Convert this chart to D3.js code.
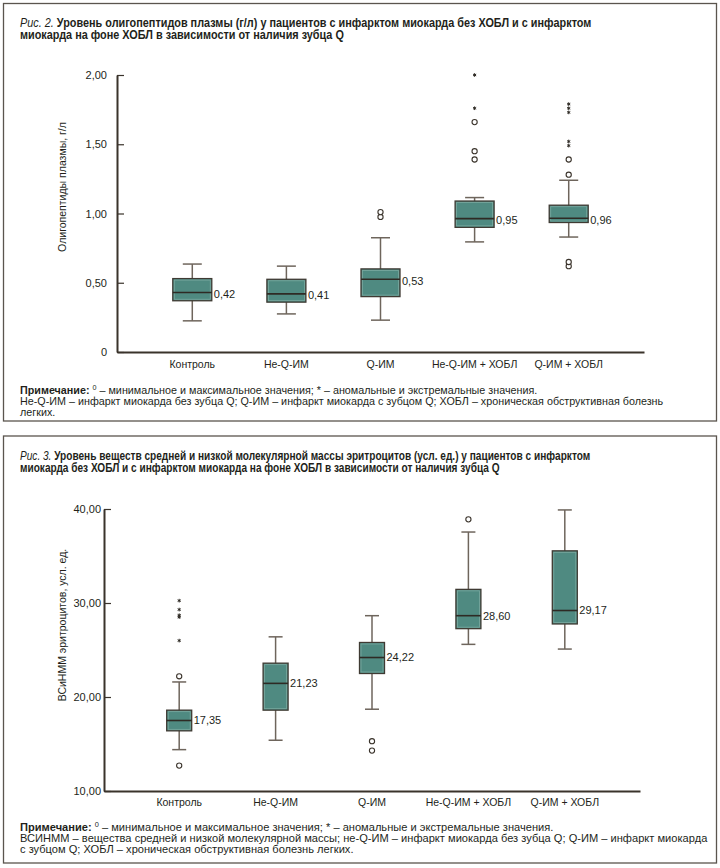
<!DOCTYPE html>
<html>
<head>
<meta charset="utf-8">
<script src="https://cdn.jsdelivr.net/npm/d3@7"></script>
<style>
  body { margin: 0; background: #fff; }
  svg text { fill: #231f1a; }
</style>
</head>
<body>
<div id="chart"></div>
<script>
// Categories (same for both figures)
var categories = ["Контроль", "Не-Q-ИМ", "Q-ИМ", "Не-Q-ИМ + ХОБЛ", "Q-ИМ + ХОБЛ"];

// Fig. 2 - plasma oligopeptides, g/l
var oligoLow    = [0.225, 0.275, 0.23, 0.795, 0.83];
var oligoQ1     = [0.37, 0.36, 0.40, 0.90, 0.935];
var oligoMedian = [0.43, 0.42, 0.525, 0.963, 0.966];
var oligoQ3     = [0.53, 0.525, 0.60, 1.09, 1.06];
var oligoHigh   = [0.635, 0.62, 0.825, 1.115, 1.24];
var oligoLabels = ["0,42", "0,41", "0,53", "0,95", "0,96"];
var oligoOutliers = [[], [], [0.975, 1.01], [1.39, 1.45, 1.66], [0.62, 0.65, 1.28, 1.39]];
var oligoExtremes = [[], [], [], [1.76, 2.0], [1.49, 1.52, 1.73, 1.76, 1.79]];
var oligoTicks = [0, 0.5, 1, 1.5, 2];
var oligoTickLabels = ["0", "0,50", "1,00", "1,50", "2,00"];

// Fig. 3 - erythrocyte middle/low molecular weight substances, c.u.
var vsLow    = [14.4, 15.4, 18.7, 25.6, 25.1];
var vsQ1     = [16.4, 18.6, 22.5, 27.27, 27.77];
var vsMedian = [17.5, 21.45, 24.2, 28.65, 29.2];
var vsQ3     = [18.6, 23.6, 25.8, 31.45, 35.55];
var vsHigh   = [21.6, 26.4, 28.65, 37.55, 39.9];
var vsLabels = ["17,35", "21,23", "24,22", "28,60", "29,17"];
var vsOutliers = [[12.7, 22.2], [], [14.3, 15.3], [38.9], []];
var vsExtremes = [[26.0, 28.5, 28.7, 29.3, 30.25], [], [], [], []];
var vsTicks = [10, 20, 30, 40];
var vsTickLabels = ["10,00", "20,00", "30,00", "40,00"];

var FONT = "'Liberation Sans', Arial, sans-serif";
var boxFill = "#4f8a81", darkLine = "#3a332b", whiskerColor = "#6e655c";

var svg = d3.select("#chart").append("svg")
    .attr("width", 720)
    .attr("height", 868)
    .style("font-family", FONT);

// squeeze a block of text lines horizontally so the widest reference line fits
function condense(lines, refIndex, target, x) {
    var len = lines[refIndex].node().getComputedTextLength();
    var s = target / len;
    lines.forEach(function (t) {
        var y = +t.attr("y");
        t.attr("x", 0).attr("y", 0)
            .attr("transform", "translate(" + x + "," + y + ") scale(" + s + ",1)");
    });
}

function drawPanel(p) {
    var g = svg.append("g");

    // Frame
    g.append("rect")
        .attr("x", 3.5).attr("y", p.frameTop)
        .attr("width", 713).attr("height", p.frameBottom - p.frameTop)
        .attr("fill", "none").attr("stroke", "#5b554e").attr("stroke-width", 1.3);

    // Title
    var titleLines = p.title.map(function (line, i) {
        var t = g.append("text")
            .attr("x", 20).attr("y", p.titleY + i * 11.8)
            .style("font-size", "12px").style("font-weight", "bold");
        if (i === 0) {
            t.append("tspan").style("font-style", "italic").style("font-weight", "normal").text(p.fig + " ");
        }
        t.append("tspan").text(line);
        return t;
    });
    condense(titleLines, 0, p.titleWidth, 20);

    // Scales
    var x = d3.scalePoint().domain(categories).range([p.x0, p.x1]).padding(p.pad);
    var y = d3.scaleLinear().domain(p.domain).range([p.yBottom, p.yTop]);

    // Y axis
    var yAxis = g.append("g")
        .attr("transform", "translate(" + p.x0 + ",0)")
        .call(d3.axisLeft(y).tickValues(p.ticks)
            .tickFormat(function (d, i) { return p.tickLabels[i]; })
            .tickSizeInner(-7).tickSizeOuter(0).tickPadding(p.tickPad));
    yAxis.select(".domain").attr("stroke", darkLine).attr("stroke-width", 2);
    yAxis.selectAll(".tick line").attr("stroke", darkLine).attr("stroke-width", 1.2);
    yAxis.selectAll(".tick text").style("font-size", "11px").style("font-family", FONT).attr("fill", "#231f1a");

    // X axis
    var xAxis = g.append("g")
        .attr("transform", "translate(0," + p.yBottom + ")")
        .call(d3.axisBottom(d3.scaleLinear().range([p.x0, p.x1])).ticks(0).tickSizeOuter(0));
    xAxis.select(".domain").attr("stroke", darkLine).attr("stroke-width", 2);

    g.selectAll(".cat")
        .data(categories)
        .enter().append("text")
        .attr("x", function (d) { return x(d); })
        .attr("y", p.catY)
        .attr("text-anchor", "middle")
        .style("font-size", "10.5px")
        .text(function (d) { return d; });

    // Y label
    g.append("text")
        .attr("transform", "translate(" + p.yLabelX + "," + p.yLabelY + ") rotate(-90)")
        .attr("text-anchor", "middle")
        .style("font-size", "10.5px")
        .text(p.yLabel);

    // Boxes
    var bw = p.boxWidth, cw = p.capWidth;
    categories.forEach(function (c, i) {
        var cx = x(c);
        // whiskers
        g.append("line").attr("x1", cx).attr("x2", cx)
            .attr("y1", y(p.low[i])).attr("y2", y(p.high[i]))
            .attr("stroke", whiskerColor).attr("stroke-width", 1.5);
        [p.low[i], p.high[i]].forEach(function (v) {
            g.append("line").attr("x1", cx - cw / 2).attr("x2", cx + cw / 2)
                .attr("y1", y(v)).attr("y2", y(v))
                .attr("stroke", whiskerColor).attr("stroke-width", 1.5);
        });
        // box
        g.append("rect")
            .attr("x", cx - bw / 2).attr("y", y(p.q3[i]))
            .attr("width", bw).attr("height", y(p.q1[i]) - y(p.q3[i]))
            .attr("fill", boxFill).attr("stroke", "#3f3a33").attr("stroke-width", 1.3);
        g.append("rect")
            .attr("x", cx - bw / 2 + 1.5).attr("y", y(p.q3[i]) + 1.5)
            .attr("width", bw - 3).attr("height", y(p.q1[i]) - y(p.q3[i]) - 3)
            .attr("fill", "none").attr("stroke", "#7aa9a0").attr("stroke-width", 0.8);
        // median
        g.append("line").attr("x1", cx - bw / 2).attr("x2", cx + bw / 2)
            .attr("y1", y(p.median[i])).attr("y2", y(p.median[i]))
            .attr("stroke", "#2e2a24").attr("stroke-width", 1.6);
        g.append("text")
            .attr("x", cx + bw / 2 + 2).attr("y", y(p.median[i]) + p.labelDy)
            .attr("dy", "0.35em")
            .style("font-size", "11px")
            .text(p.labels[i]);
        // outliers
        p.outliers[i].forEach(function (v) {
            g.append("circle").attr("cx", cx).attr("cy", y(v)).attr("r", 2.6)
                .attr("fill", "#fff").attr("stroke", "#3a332b").attr("stroke-width", 1.1);
        });
        // extreme values
        p.extremes[i].forEach(function (v) {
            g.append("path")
                .attr("transform", "translate(" + cx + "," + y(v) + ")")
                .attr("d", d3.symbol(d3.symbolAsterisk, 9)())
                .attr("fill", "none").attr("stroke", "#2e2a24").attr("stroke-width", 1);
        });
    });

    // Note
    var noteLines = p.note.map(function (line, i) {
        var t = g.append("text")
            .attr("x", 20).attr("y", p.noteY + i * 11.2)
            .style("font-size", "10.5px");
        if (i === 0) {
            t.append("tspan").style("font-weight", "bold").text("Примечание: ");
            t.append("tspan").attr("dy", -3.5).style("font-size", "7px").text("0");
            t.append("tspan").attr("dy", 3.5).text(" " + line);
        } else {
            t.text(line);
        }
        return t;
    });
    condense(noteLines, 1, p.noteWidth, 20);
}

drawPanel({
    frameTop: 3.5, frameBottom: 421,
    fig: "Рис. 2.",
    title: ["Уровень олигопептидов плазмы (г/л) у пациентов с инфарктом миокарда без ХОБЛ и с инфарктом",
            "миокарда на фоне ХОБЛ в зависимости от наличия зубца Q"],
    titleY: 27, titleWidth: 572,
    x0: 117, x1: 644, pad: 0.8,
    domain: [0, 2], yBottom: 352, yTop: 75,
    ticks: oligoTicks, tickLabels: oligoTickLabels, tickPad: 10,
    catY: 368,
    yLabel: "Олигопептиды плазмы, г/л", yLabelX: 66, yLabelY: 187,
    boxWidth: 39, capWidth: 19, labelDy: 1.5,
    low: oligoLow, q1: oligoQ1, median: oligoMedian, q3: oligoQ3, high: oligoHigh,
    labels: oligoLabels, outliers: oligoOutliers, extremes: oligoExtremes,
    noteY: 393.5, noteWidth: 644,
    note: ["– минимальное и максимальное значения; * – аномальные и экстремальные значения.",
           "Не-Q-ИМ – инфаркт миокарда без зубца Q; Q-ИМ – инфаркт миокарда с зубцом Q; ХОБЛ – хроническая обструктивная болезнь",
           "легких."]
});

drawPanel({
    frameTop: 436, frameBottom: 863,
    fig: "Рис. 3.",
    title: ["Уровень веществ средней и низкой молекулярной массы эритроцитов (усл. ед.) у пациентов с инфарктом",
            "миокарда без ХОБЛ и с инфарктом миокарда на фоне ХОБЛ в зависимости от наличия зубца Q"],
    titleY: 460, titleWidth: 571,
    x0: 104, x1: 640, pad: 0.78,
    domain: [10, 40], yBottom: 791, yTop: 509,
    ticks: vsTicks, tickLabels: vsTickLabels, tickPad: 3,
    catY: 805.5,
    yLabel: "ВСиНММ эритроцитов, усл. ед.", yLabelX: 66, yLabelY: 625,
    boxWidth: 25, capWidth: 14, labelDy: 0,
    low: vsLow, q1: vsQ1, median: vsMedian, q3: vsQ3, high: vsHigh,
    labels: vsLabels, outliers: vsOutliers, extremes: vsExtremes,
    noteY: 830.5, noteWidth: 688,
    note: ["– минимальное и максимальное значения; * – аномальные и экстремальные значения.",
           "ВСИНММ – вещества средней и низкой молекулярной массы; не-Q-ИМ – инфаркт миокарда без зубца Q; Q-ИМ – инфаркт миокарда",
           "с зубцом Q; ХОБЛ – хроническая обструктивная болезнь легких."]
});
</script>
</body>
</html>
